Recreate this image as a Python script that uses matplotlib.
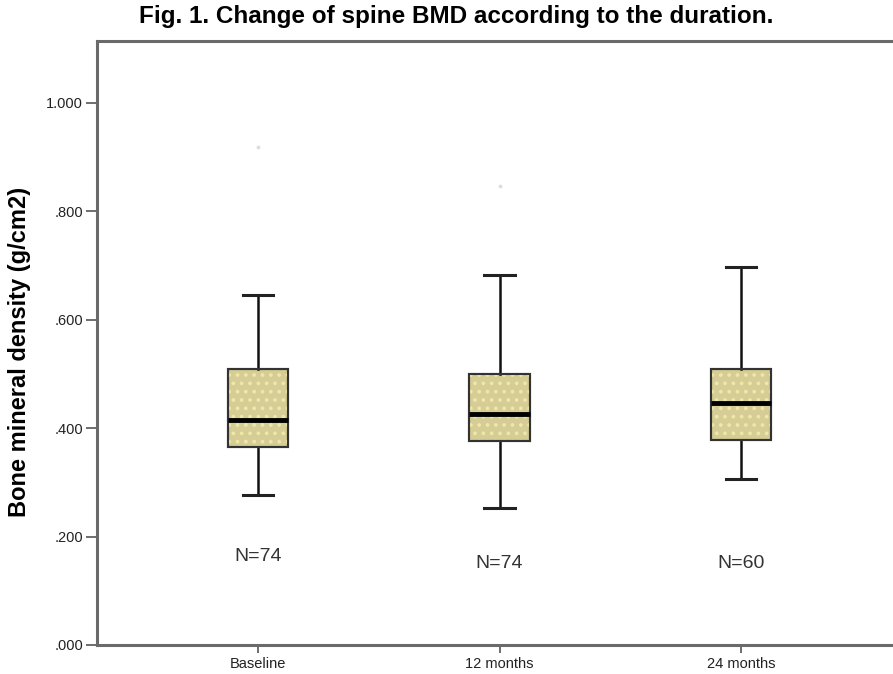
import numpy as np
import matplotlib
matplotlib.use("Agg")
import matplotlib.pyplot as plt
from matplotlib.patches import PathPatch

# data (g/cm2)
groups = ["Baseline", "12 months", "24 months"]
whis_lo = [0.277, 0.253, 0.306]
q1 = [0.365, 0.376, 0.378]
median = [0.415, 0.426, 0.446]
q3 = [0.509, 0.500, 0.509]
whis_hi = [0.646, 0.683, 0.697]
n_labels = ["N=74", "N=74", "N=60"]
n_label_y = [0.164, 0.151, 0.151]
# faint stray points visible above the boxes
faint_pts = [0.919, 0.846]

plt.rcParams['font.family'] = ['Liberation Sans', 'DejaVu Sans']
plt.rcParams['hatch.linewidth'] = 1.5

fig = plt.figure(figsize=(8.93, 6.74), dpi=100)
ax = fig.add_axes([97/893, 29/674, 805/893, 604/674])

stats = []
for i, g in enumerate(groups):
    stats.append(dict(label=g, whislo=whis_lo[i], q1=q1[i], med=median[i],
                      q3=q3[i], whishi=whis_hi[i], fliers=[]))

pos = np.arange(len(groups))
bp = ax.bxp(stats, positions=pos, widths=0.25, patch_artist=True,
            boxprops=dict(facecolor="#d5cd95", edgecolor="#333333", linewidth=1.5, zorder=2),
            medianprops=dict(color="black", linewidth=3.5, zorder=5),
            whiskerprops=dict(color="#111111", linewidth=1.8),
            capprops=dict(color="#222222", linewidth=2.2),
            capwidths=0.125)

# dotted fill pattern on boxes
for b in bp['boxes']:
    p = PathPatch(b.get_path(), facecolor="none", edgecolor="#eee8a6",
                  hatch="..", linewidth=0, zorder=2.5)
    ax.add_patch(p)
    # box outline again on top of the dots
    ax.add_patch(PathPatch(b.get_path(), facecolor="none", edgecolor="#333333",
                           linewidth=1.5, zorder=3))

ax.scatter(pos[:len(faint_pts)], faint_pts, s=3, color="#dddddd", zorder=1)

for i, t in enumerate(n_labels):
    ax.text(pos[i], n_label_y[i], t, ha="center", va="center",
            fontsize=14, color="#333333")

ax.set_xlim(-0.667, 2.667)
ax.set_ylim(0, 1.114)
ax.set_yticks(np.arange(0, 1.01, 0.2))
ax.set_yticklabels([("%.3f" % v).lstrip("0") if v < 1 else "%.3f" % v
                    for v in np.arange(0, 1.01, 0.2)])
ax.set_xticks(pos)
ax.set_xticklabels(groups)
ax.tick_params(axis="y", length=8, width=1.2, color="#555555",
               labelsize=10.5, labelcolor="#222222", pad=2)
ax.tick_params(axis="x", length=6, width=1.2, color="#555555",
               labelsize=10.5, labelcolor="#222222", pad=3)

for s in ["left", "top", "bottom"]:
    ax.spines[s].set_color("#6a6a6a")
    ax.spines[s].set_linewidth(2.2)
ax.spines["right"].set_visible(False)

fig.text(456/893, 1 - 17/674, "Fig. 1. Change of spine BMD according to the duration.",
         ha="center", va="center", fontsize=17.5, fontweight="bold")
fig.text(20/893, 1 - 352/674, "Bone mineral density (g/cm2)", rotation=90,
         ha="center", va="center", fontsize=17, fontweight="bold")

fig.savefig("out.png", dpi=100)
